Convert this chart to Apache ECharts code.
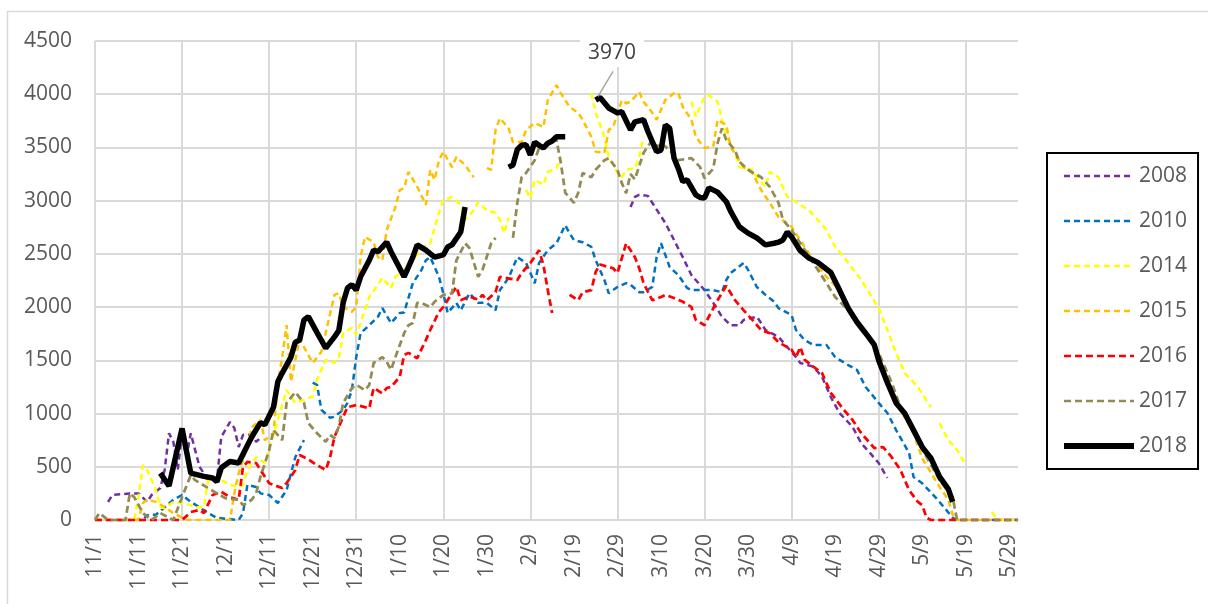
<!DOCTYPE html>
<html>
<head>
<meta charset="utf-8">
<script src="https://cdn.jsdelivr.net/npm/echarts/dist/echarts.min.js"></script>
<style>
html, body { margin: 0; padding: 0; background: #fff; }
#chart { width: 1208px; height: 604px; }
</style>
</head>
<body>
<div id="chart"></div>
<script>
// x = days since 11/1 (leap-year season, so 2/29 exists), y = value; null breaks the line
var tickLabels = ['11/1', '11/11', '11/21', '12/1', '12/11', '12/21', '12/31', '1/10', '1/20', '1/30', '2/9',
    '2/19', '2/29', '3/10', '3/20', '3/30', '4/9', '4/19', '4/29', '5/9', '5/19', '5/29'];

var y2008 = [[3, 170], [4, 235], [8, 250], [10, 250], [12, 170], [13, 235], [15, 300], [16, 470], [17, 815], [18, 735],
    [19, 470], [20, 815], [21, 590], [22, 815], [24, 500], [26, 375], [28, 375], [29, 780], [31, 920], [32, 865],
    [33, 685], [34, 800], [36, 800], [37, 735], [38, 770], [39, null],
    [123, 2940], [124, 3035], [125, 3055], [127, 3045], [128, 2980], [131, 2790], [133, 2630], [135, 2470], [137, 2300],
    [140, 2160], [142, 2040], [144, 1910], [146, 1830], [148, 1830], [149, 1880], [151, 1900], [152, 1910], [153, 1850],
    [154, 1785], [157, 1720], [159, 1625], [161, 1530], [162, 1475], [165, 1440], [167, 1345], [169, 1155], [171, 1005],
    [174, 875], [176, 720], [178, 630], [180, 535], [182, 395]];

var y2010 = [[0, 0], [11, 0], [12, 45], [14, 50], [16, 120], [18, 190], [20, 235], [22, 170], [24, 120], [26, 65],
    [28, 20], [33, 0], [34, 65], [35, 330], [37, 310], [38, 250], [40, 235], [42, 160], [44, 280], [46, 590], [48, 750],
    [49, null],
    [50, 1290], [51, 1270], [52, 1035], [54, 960], [55, 970], [57, 1035], [58, 1100], [59, 1220], [60, 1530], [61, 1755],
    [63, 1830], [65, 1910], [66, 1990], [68, 1850], [70, 1945], [71, 1950], [73, 2225], [75, 2350], [76, 2440],
    [77, 2470], [79, 2285], [80, 2130], [81, 1945], [83, 2040], [84, 1970], [86, 2130], [88, 2040], [90, 2040],
    [92, 1970], [93, 2160], [95, 2275], [97, 2470], [99, 2415], [101, 2225], [102, 2415], [104, 2535], [106, 2600],
    [108, 2770], [109, 2695], [110, 2630], [112, 2610], [114, 2565], [115, 2440], [117, 2255], [118, 2130], [120, 2190],
    [122, 2225], [123, 2210], [125, 2140], [126, 2140], [128, 2190], [129, 2470], [130, 2600], [131, 2490], [132, 2375],
    [134, 2300], [136, 2180], [137, 2160], [140, 2160], [142, 2160], [144, 2140], [145, 2255], [146, 2320], [149, 2415],
    [150, 2350], [152, 2190], [154, 2115], [156, 2050], [157, 1990], [160, 1925], [161, 1785], [163, 1690], [165, 1645],
    [168, 1645], [170, 1530], [173, 1455], [175, 1410], [177, 1250], [180, 1100], [182, 1005], [184, 845], [187, 630],
    [188, 405], [190, 345], [193, 215], [195, 120], [197, 20], [198, 0], [212, 0]];

var y2014 = [[0, 0], [9, 0], [10, 215], [11, 515], [12, 470], [14, 280], [15, 120], [16, 110], [18, 170], [20, 160],
    [22, 140], [23, 120], [25, 120], [26, 375], [28, 405], [29, 375], [31, 330], [33, 310], [34, 330], [35, 470],
    [37, 590], [39, 535], [40, 675], [41, 800], [44, 1220], [46, 1100], [48, 1130], [50, 1160], [51, 1315], [53, 1505],
    [55, 1475], [56, 1520], [57, 1755], [59, 1805], [60, 1740], [61, 1850], [63, 2095], [65, 2210], [66, 2275],
    [68, 2180], [69, 2285], [71, 2350], [73, 2450], [75, 2540], [76, 2585], [77, 2600], [79, 2885], [80, 3005],
    [82, 3035], [84, 2960], [85, 2820], [87, 2910], [88, 2985], [90, 2910], [92, 2885], [93, 2820], [94, 2695],
    [95, 2840], [96, null],
    [99, 3100], [100, 3025], [101, 3195], [103, 3150], [104, 3270], [106, 3305], [107, 3400], [108, null],
    [114, 4010], [115, 3825], [117, 3600], [118, 3410], [120, 3260], [121, 3220], [122, 3290], [124, 3305], [125, 3410],
    [126, 3600], [127, null],
    [137, 3930], [138, 3790], [140, 3975], [141, 3990], [143, 3930], [145, 3600], [147, 3450], [148, 3315], [151, 3290],
    [152, 3220], [154, 3130], [155, 3270], [157, 3220], [159, 3035], [161, 2985], [164, 2910], [166, 2820], [168, 2725],
    [170, 2565], [172, 2470], [176, 2255], [180, 1990], [182, 1785], [184, 1570], [186, 1380], [189, 1250], [192, 1060],
    [193, null],
    [194, 910], [196, 750], [198, 660], [200, 515], [201, null],
    [206, 75], [207, 20], [208, 0], [212, 0]];

var y2015 = [[0, 0], [10, 0], [11, 160], [12, 190], [14, 170], [16, 120], [18, 65], [21, 0], [31, 0], [32, 250],
    [33, 440], [35, 690], [36, 870], [38, 940], [39, 750], [41, 815], [42, 1290], [43, 1530], [44, 1830], [45, 1300],
    [47, 1700], [48, 1625], [50, 1475], [52, 1580], [53, 1760], [55, 2115], [56, 2130], [57, 2000], [59, 1955],
    [60, 2000], [61, 2470], [62, 2660], [64, 2610], [65, 2470], [66, 2440], [67, 2725], [69, 2940], [70, 3100],
    [71, 3120], [72, 3270], [74, 3130], [76, 2960], [77, 3290], [78, 3195], [79, 3380], [80, 3460], [82, 3315],
    [83, 3410], [85, 3335], [87, 3220], [88, null],
    [90, 3305], [91, 3290], [92, 3665], [93, 3775], [95, 3680], [96, 3550], [98, 3550], [99, 3665], [101, 3730],
    [103, 3690], [104, 3945], [106, 4085], [107, 4010], [109, 3880], [111, 3825], [112, 3760], [114, 3600], [115, 3460],
    [117, 3450], [118, 3665], [119, 3690], [121, 3945], [122, 3915], [123, 3930], [125, 4020], [126, 3930], [128, 3825],
    [129, 3760], [131, 3945], [133, 4010], [134, 4010], [135, 3880], [137, 3760], [138, 3600], [140, 3495], [142, 3510],
    [143, 3760], [145, 3710], [146, 3505], [149, 3315], [151, 3260], [153, 3100], [155, 2980], [157, 2845], [160, 2755],
    [163, 2565], [165, 2440], [168, 2285], [171, 2160], [173, 2000], [175, 1860], [177, 1740], [179, 1625], [182, 1345],
    [185, 1035], [188, 815], [190, 580], [194, 310], [196, 190], [197, 50], [198, 0], [212, 0]];

var y2016 = [[0, 0], [20, 0], [22, 75], [24, 95], [25, 65], [27, 235], [29, 265], [31, 215], [33, 190], [34, 500],
    [35, 545], [37, 535], [38, 470], [40, 345], [43, 300], [44, 345], [46, 470], [47, 610], [49, 570], [51, 515],
    [53, 470], [54, 590], [55, 780], [57, 970], [58, 1060], [60, 1080], [63, 1050], [64, 1240], [66, 1190], [67, 1240],
    [68, 1250], [70, 1345], [71, 1550], [72, 1570], [74, 1520], [76, 1690], [77, 1785], [79, 1955], [80, 2000],
    [82, 2130], [83, 2190], [84, 2065], [86, 2100], [88, 2070], [89, 2115], [90, 2065], [92, 2140], [93, 2285],
    [97, 2255], [98, 2320], [100, 2415], [102, 2535], [103, 2395], [104, 2160], [105, 1945], [106, null],
    [109, 2115], [111, 2065], [112, 2140], [114, 2160], [115, 2330], [116, 2400], [119, 2365], [120, 2320], [122, 2600],
    [124, 2470], [125, 2365], [126, 2225], [128, 2065], [130, 2095], [131, 2115], [133, 2085], [135, 2050], [137, 2000],
    [138, 1880], [140, 1830], [141, 1910], [143, 2065], [145, 2200], [147, 2065], [149, 1970], [151, 1880], [153, 1785],
    [155, 1755], [157, 1670], [160, 1600], [161, 1530], [162, 1625], [163, 1505], [165, 1440], [167, 1380], [169, 1195],
    [172, 1035], [174, 940], [176, 815], [179, 675], [181, 685], [183, 590], [185, 470], [187, 280], [189, 170],
    [190, 140], [191, 20], [192, 0], [212, 0]];

var y2017 = [[0, 0], [1, 65], [3, 0], [7, 0], [8, 250], [9, 215], [11, 65], [13, 0], [15, 65], [18, 0], [20, 215],
    [22, 420], [23, 375], [26, 300], [28, 250], [30, 205], [33, 190], [34, 140], [36, 190], [37, 250], [38, 405],
    [40, 655], [41, 845], [43, 750], [44, 1100], [46, 1200], [48, 1100], [49, 910], [51, 815], [53, 735], [54, 800],
    [55, 770], [56, 875], [57, 1100], [59, 1240], [60, 1270], [62, 1220], [63, 1270], [64, 1475], [66, 1530],
    [67, 1485], [68, 1410], [69, 1530], [71, 1755], [72, 1830], [73, 1850], [74, 2040], [75, 2040], [77, 2000],
    [78, 2050], [80, 2115], [82, 2130], [83, 2440], [85, 2600], [86, 2555], [88, 2285], [89, 2350], [91, 2600],
    [92, 2650], [93, null],
    [96, 2650], [97, 2980], [98, 3220], [99, 3260], [101, 3380], [102, 3495], [104, 3540], [106, 3570], [107, 3355],
    [108, 3075], [110, 2980], [111, 3075], [112, 3260], [114, 3220], [115, 3290], [117, 3380], [118, 3400], [120, 3290],
    [121, 3165], [122, 3070], [123, 3250], [124, 3200], [126, 3450], [128, 3570], [129, 3505], [130, 3540], [132, 3475],
    [134, 3380], [137, 3400], [139, 3315], [140, 3210], [142, 3300], [143, 3540], [144, 3680], [145, 3570], [147, 3475],
    [148, 3365], [150, 3290], [153, 3220], [155, 3130], [157, 2980], [158, 2820], [160, 2725], [162, 2600], [165, 2415],
    [168, 2225], [170, 2095], [173, 1970], [176, 1815], [180, 1570], [183, 1290], [185, 1060], [188, 815], [191, 590],
    [194, 375], [197, 215], [198, 0], [212, 0]];

var y2018 = [[15, 440], [17, 320], [20, 860], [22, 440], [25, 410], [27, 395], [28, 360], [29, 490], [31, 550],
    [33, 535], [35, 700], [36, 780], [38, 915], [39, 895], [41, 1060], [42, 1300], [43, 1380], [45, 1530], [46, 1670],
    [47, 1690], [48, 1880], [49, 1910], [51, 1760], [53, 1615], [55, 1720], [56, 1780], [57, 2040], [58, 2180],
    [59, 2210], [60, 2160], [61, 2285], [63, 2440], [64, 2535], [65, 2520], [67, 2610], [68, 2520], [71, 2285],
    [73, 2470], [74, 2585], [76, 2535], [78, 2470], [80, 2490], [81, 2565], [82, 2585], [84, 2705], [85, 2940],
    [86, null],
    [95, 3315], [96, 3335], [97, 3480], [98, 3520], [99, 3525], [100, 3430], [101, 3550], [102, 3520], [103, 3495],
    [104, 3540], [105, 3560], [106, 3600], [108, 3600], [109, null],
    [115, 3945], [116, 3970], [118, 3870], [120, 3825], [121, 3835], [123, 3665], [124, 3740], [126, 3760], [127, 3650],
    [129, 3460], [130, 3475], [131, 3710], [132, 3680], [133, 3400], [134, 3300], [135, 3180], [136, 3195], [138, 3055],
    [139, 3030], [140, 3025], [141, 3120], [143, 3080], [145, 2990], [146, 2900], [148, 2755], [150, 2695], [152, 2650],
    [154, 2585], [156, 2600], [157, 2610], [158, 2630], [159, 2705], [160, 2660], [162, 2530], [164, 2460], [166, 2420],
    [169, 2325], [171, 2160], [173, 1990], [175, 1860], [177, 1755], [179, 1645], [180, 1500], [182, 1290], [184, 1100],
    [186, 1000], [188, 845], [190, 685], [192, 580], [194, 405], [196, 290], [197, 170]];

var peakDay = 116; // 2018 point that carries the "3970" callout

var font = 'Open Sans';
var grey = '#595959';
var gridGrey = '#d9d9d9';

function lineSeries(name, data, color, width, dash, z) {
    return {
        name: name,
        type: 'line',
        data: data,
        symbol: 'none',
        connectNulls: false,
        lineStyle: { color: color, width: width, type: dash },
        itemStyle: { color: color },
        emphasis: { disabled: true },
        z: z
    };
}

// 峰值标注点，从2018数据里取出
var peakPoint = y2018.filter(function (p) { return p[0] === peakDay; });

// 引线 + 白底数字，位置由坐标系换算
function renderCallout(params, api) {
    var pt = api.coord([api.value(0), api.value(1)]);
    return {
        type: 'group',
        children: [{
            type: 'line',
            shape: { x1: pt[0] - 2, y1: pt[1] - 1, x2: pt[0] + 13, y2: pt[1] - 26 },
            style: { stroke: '#a6a6a6', lineWidth: 1.5 }
        }, {
            type: 'text',
            x: pt[0] + 12,
            y: pt[1] - 44,
            style: {
                text: String(api.value(1)),
                fill: '#404040',
                fontFamily: font,
                fontSize: 21,
                align: 'center',
                verticalAlign: 'middle',
                backgroundColor: '#fff',
                padding: [3, 8]
            }
        }]
    };
}

var chart = echarts.init(document.getElementById('chart'));
chart.setOption({
    animation: false,
    backgroundColor: '#fff',
    textStyle: { fontFamily: font },
    graphic: [{
        type: 'rect',
        shape: { x: 7.5, y: 11.5, width: 1400, height: 800 },
        style: { fill: 'none', stroke: gridGrey, lineWidth: 1.5 },
        silent: true,
        z: -10
    }],
    grid: { left: 95, right: 190, top: 41, bottom: 84 },
    legend: {
        orient: 'vertical',
        left: 1047,
        top: 153,
        padding: [11, 11, 11, 14],
        itemGap: 21,
        itemWidth: 70,
        itemHeight: 14,
        borderColor: '#000',
        borderWidth: 2,
        itemStyle: { opacity: 0 },
        textStyle: { fontFamily: font, fontSize: 21, color: grey, lineHeight: 24 },
        data: [
            { name: '2008', lineStyle: { width: 2.5 } },
            { name: '2010', lineStyle: { width: 2.5 } },
            { name: '2014', lineStyle: { width: 2.5 } },
            { name: '2015', lineStyle: { width: 2.5 } },
            { name: '2016', lineStyle: { width: 2.5 } },
            { name: '2017', lineStyle: { width: 2.5 } },
            { name: '2018', lineStyle: { width: 6 } }
        ]
    },
    xAxis: [{
        type: 'value',
        min: 0,
        max: 212,
        interval: 10,
        axisLine: { show: true, lineStyle: { color: gridGrey, width: 2 } },
        axisTick: { show: false },
        splitLine: { show: false },
        axisLabel: {
            rotate: 90,
            margin: 14,
            fontFamily: font,
            fontSize: 21,
            color: grey,
            formatter: function (v) {
                return v % 10 === 0 && tickLabels[v / 10] ? tickLabels[v / 10] : '';
            }
        }
    }, {
        // 只用来画每20天一条的竖网格线
        type: 'value',
        min: 0,
        max: 212,
        interval: 20,
        position: 'bottom',
        axisLine: { show: false },
        axisTick: { show: false },
        axisLabel: { show: false },
        splitLine: { show: true, showMaxLine: false, lineStyle: { color: gridGrey, width: 2 } }
    }],
    yAxis: {
        type: 'value',
        min: 0,
        max: 4500,
        interval: 500,
        axisLine: { show: false },
        axisTick: { show: false },
        axisLabel: {
            margin: 23, fontFamily: font, fontSize: 21, color: grey,
            formatter: function (v) { return String(v); }
        },
        splitLine: { lineStyle: { color: gridGrey, width: 2 } }
    },
    series: [
        lineSeries('2008', y2008, '#7030A0', 2.5, [6, 4], 2),
        lineSeries('2010', y2010, '#0070C0', 2.5, [6, 4], 2),
        lineSeries('2014', y2014, '#FFFF00', 2.5, [6, 4], 2),
        lineSeries('2015', y2015, '#FFC000', 2.5, [6, 4], 2),
        lineSeries('2016', y2016, '#FF0000', 2.75, [7, 4], 2),
        lineSeries('2017', y2017, '#948A54', 2.75, [7, 4], 2),
        lineSeries('2018', y2018, '#000000', 5.5, 'solid', 5),
        {
            name: 'peak',
            type: 'custom',
            data: peakPoint,
            encode: { x: 0, y: 1 },
            renderItem: renderCallout,
            clip: false,
            silent: true,
            z: 6
        }
    ]
});
</script>
</body>
</html>
